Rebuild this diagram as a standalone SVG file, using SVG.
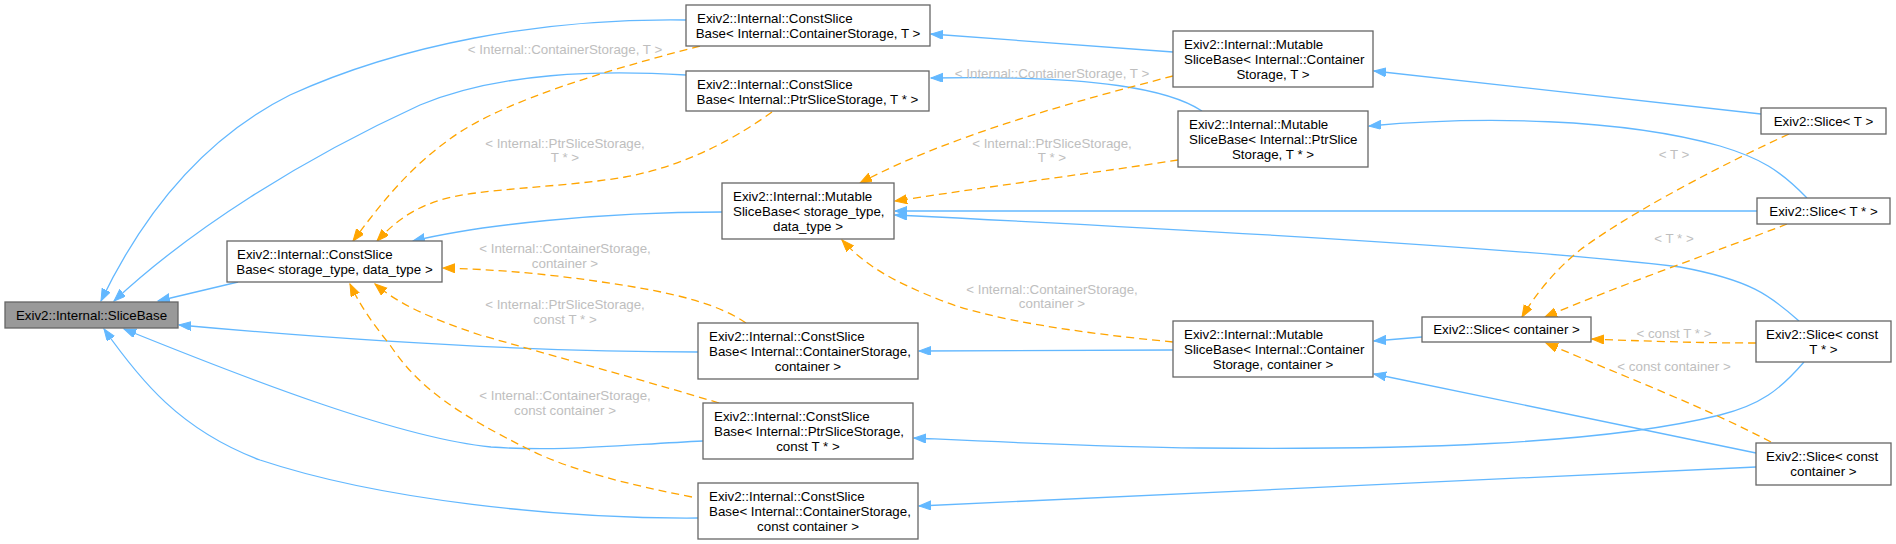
<svg xmlns="http://www.w3.org/2000/svg" width="1896" height="544" viewBox="0 0 1896 544">
<defs>
<style>
.n rect{fill:#ffffff;stroke:#666666;stroke-width:1.3}
.n text{font-family:"Liberation Sans",Arial,Helvetica,sans-serif;font-size:13.33px;fill:#000000}
.c{text-anchor:middle}
.e{fill:none;stroke:#63B8FF;stroke-width:1.3}
.t{fill:none;stroke:#FFA500;stroke-width:1.3;stroke-dasharray:8,5}
.lb{font-family:"Liberation Sans",Arial,Helvetica,sans-serif;font-size:13.33px;fill:#BEBEBE;text-anchor:middle}
</style>
<marker id="ab" markerWidth="14" markerHeight="10" refX="12" refY="4.5" orient="auto" markerUnits="userSpaceOnUse"><path d="M0,0 L12,4.5 L0,9 z" fill="#63B8FF" stroke="#63B8FF" stroke-width="1"/></marker>
<marker id="ao" markerWidth="14" markerHeight="10" refX="12" refY="4.5" orient="auto" markerUnits="userSpaceOnUse"><path d="M0,0 L12,4.5 L0,9 z" fill="#FFA500" stroke="#FFA500" stroke-width="1"/></marker>
</defs>
<rect width="1896" height="544" fill="#ffffff"/>
<g id="connectors">
<path class="e" marker-end="url(#ab)" d="M686,20 C540,18 400,45 290,95 C200,140 140,220 101,301"/>
<path class="e" marker-end="url(#ab)" d="M686,75 C600,70 500,72 420,105 C300,160 190,230 114,301"/>
<path class="e" marker-end="url(#ab)" d="M238,282 L158,301"/>
<path class="e" marker-end="url(#ab)" d="M698,352 C560,352 400,345 179,325"/>
<path class="e" marker-end="url(#ab)" d="M703,441 C620,445 560,452 491,447 C400,438 250,380 124,329"/>
<path class="e" marker-end="url(#ab)" d="M698,518 C560,519 380,500 260,460 C180,430 140,380 104,329"/>
<path class="e" marker-end="url(#ab)" d="M722,212 C600,212 480,225 413,241"/>
<path class="e" marker-end="url(#ab)" d="M1173,52 L931,34"/>
<path class="e" marker-end="url(#ab)" d="M1202,111 C1170,90 1100,75 931,78"/>
<path class="e" marker-end="url(#ab)" d="M1757,211 L895,211"/>
<path class="e" marker-end="url(#ab)" d="M1799,321 C1770,295 1750,280 1680,267 C1500,245 1100,225 895,215"/>
<path class="e" marker-end="url(#ab)" d="M1761,114 L1374,71"/>
<path class="e" marker-end="url(#ab)" d="M1807,198 C1780,170 1760,158 1720,146 C1620,118 1480,116 1369,126"/>
<path class="e" marker-end="url(#ab)" d="M1422,337 L1374,341"/>
<path class="e" marker-end="url(#ab)" d="M1756,453 L1374,374"/>
<path class="e" marker-end="url(#ab)" d="M1173,350 L919,351"/>
<path class="e" marker-end="url(#ab)" d="M1804,362 C1780,390 1760,405 1720,415 C1600,445 1400,450 1200,448 C1100,447 1000,442 914,438"/>
<path class="e" marker-end="url(#ab)" d="M1756,467 L919,506"/>
<path class="t" marker-end="url(#ao)" d="M700,46 C600,72 510,100 460,132 C410,165 380,205 353,241"/>
<path class="t" marker-end="url(#ao)" d="M772,112 C740,135 690,165 625,177 C560,188 480,188 440,200 C410,210 395,222 377,241"/>
<path class="t" marker-end="url(#ao)" d="M1173,76 C1080,100 950,135 860,183"/>
<path class="t" marker-end="url(#ao)" d="M1178,160 C1100,172 1000,185 895,201"/>
<path class="t" marker-end="url(#ao)" d="M746,323 C720,305 680,295 640,288 C580,278 520,270 443,268"/>
<path class="t" marker-end="url(#ao)" d="M719,403 C660,385 550,355 480,335 C430,318 400,305 375,284"/>
<path class="t" marker-end="url(#ao)" d="M692,497 C630,485 570,470 530,450 C460,415 420,390 390,345 C370,320 360,305 350,284"/>
<path class="t" marker-end="url(#ao)" d="M1173,342 C1080,333 990,320 940,300 C890,280 865,265 842,240"/>
<path class="t" marker-end="url(#ao)" d="M1789,134 C1700,175 1620,220 1580,250 C1555,270 1535,295 1522,317"/>
<path class="t" marker-end="url(#ao)" d="M1787,224 C1720,250 1620,285 1545,317"/>
<path class="t" marker-end="url(#ao)" d="M1756,343 C1700,343 1640,341 1592,339"/>
<path class="t" marker-end="url(#ao)" d="M1771,442 C1700,405 1620,375 1546,343"/>
<text class="lb" x="565" y="53.5">&lt; Internal::ContainerStorage, T &gt;</text>
<text class="lb" x="565" y="147.5">&lt; Internal::PtrSliceStorage,</text>
<text class="lb" x="565" y="162">T * &gt;</text>
<text class="lb" x="1052" y="77.5">&lt; Internal::ContainerStorage, T &gt;</text>
<text class="lb" x="1052" y="147.5">&lt; Internal::PtrSliceStorage,</text>
<text class="lb" x="1052" y="162">T * &gt;</text>
<text class="lb" x="565" y="252.5">&lt; Internal::ContainerStorage,</text>
<text class="lb" x="565" y="267.5">container &gt;</text>
<text class="lb" x="565" y="308.5">&lt; Internal::PtrSliceStorage,</text>
<text class="lb" x="565" y="323.5">const T * &gt;</text>
<text class="lb" x="565" y="399.5">&lt; Internal::ContainerStorage,</text>
<text class="lb" x="565" y="414.5">const container &gt;</text>
<text class="lb" x="1052" y="293.5">&lt; Internal::ContainerStorage,</text>
<text class="lb" x="1052" y="308">container &gt;</text>
<text class="lb" x="1674" y="158.5">&lt; T &gt;</text>
<text class="lb" x="1674" y="242.5">&lt; T * &gt;</text>
<text class="lb" x="1674" y="337.5">&lt; const T * &gt;</text>
<text class="lb" x="1674" y="370.5">&lt; const container &gt;</text>
</g>
<g id="SliceBase" class="n"><rect x="5" y="302" width="173" height="26" style="fill:#999999"/><text class="c" x="91.5" y="319.5">Exiv2::Internal::SliceBase</text></g>
<g id="ConstSliceBase_st" class="n"><rect x="227" y="241" width="215" height="41"/><text x="237" y="259">Exiv2::Internal::ConstSlice</text><text class="c" x="334.5" y="274">Base&lt; storage_type, data_type &gt;</text></g>
<g id="ConstSliceBase_CT" class="n"><rect x="686" y="5" width="244" height="41"/><text x="697" y="23">Exiv2::Internal::ConstSlice</text><text class="c" x="808" y="38">Base&lt; Internal::ContainerStorage, T &gt;</text></g>
<g id="ConstSliceBase_PT" class="n"><rect x="686" y="71" width="243" height="40"/><text x="697" y="89">Exiv2::Internal::ConstSlice</text><text class="c" x="807.5" y="104">Base&lt; Internal::PtrSliceStorage, T * &gt;</text></g>
<g id="MutableSliceBase_st" class="n"><rect x="722" y="183" width="172" height="56"/><text x="733" y="201">Exiv2::Internal::Mutable</text><text x="733" y="216">SliceBase&lt; storage_type,</text><text class="c" x="808" y="231">data_type &gt;</text></g>
<g id="MutableSliceBase_CT" class="n"><rect x="1173" y="31" width="200" height="56"/><text x="1184" y="49">Exiv2::Internal::Mutable</text><text x="1184" y="64">SliceBase&lt; Internal::Container</text><text class="c" x="1273" y="79">Storage, T &gt;</text></g>
<g id="MutableSliceBase_PT" class="n"><rect x="1178" y="111" width="190" height="56"/><text x="1189" y="129">Exiv2::Internal::Mutable</text><text x="1189" y="144">SliceBase&lt; Internal::PtrSlice</text><text class="c" x="1273" y="159">Storage, T * &gt;</text></g>
<g id="ConstSliceBase_Cc" class="n"><rect x="698" y="323" width="220" height="56"/><text x="709" y="341">Exiv2::Internal::ConstSlice</text><text x="709" y="356">Base&lt; Internal::ContainerStorage,</text><text class="c" x="808" y="371">container &gt;</text></g>
<g id="ConstSliceBase_PcT" class="n"><rect x="703" y="403" width="210" height="56"/><text x="714" y="421">Exiv2::Internal::ConstSlice</text><text x="714" y="436">Base&lt; Internal::PtrSliceStorage,</text><text class="c" x="808" y="451">const T * &gt;</text></g>
<g id="ConstSliceBase_Ccc" class="n"><rect x="698" y="483" width="220" height="56"/><text x="709" y="501">Exiv2::Internal::ConstSlice</text><text x="709" y="516">Base&lt; Internal::ContainerStorage,</text><text class="c" x="808" y="531">const container &gt;</text></g>
<g id="MutableSliceBase_Cc" class="n"><rect x="1173" y="321" width="200" height="56"/><text x="1184" y="339">Exiv2::Internal::Mutable</text><text x="1184" y="354">SliceBase&lt; Internal::Container</text><text class="c" x="1273" y="369">Storage, container &gt;</text></g>
<g id="Slice_container" class="n"><rect x="1422" y="317" width="169" height="25"/><text class="c" x="1506.5" y="334">Exiv2::Slice&lt; container &gt;</text></g>
<g id="Slice_T" class="n"><rect x="1761" y="108" width="125" height="26"/><text class="c" x="1823.5" y="125.5">Exiv2::Slice&lt; T &gt;</text></g>
<g id="Slice_Tp" class="n"><rect x="1757" y="198" width="133" height="26"/><text class="c" x="1823.5" y="215.5">Exiv2::Slice&lt; T * &gt;</text></g>
<g id="Slice_cTp" class="n"><rect x="1756" y="321" width="135" height="41"/><text x="1766" y="339">Exiv2::Slice&lt; const</text><text class="c" x="1823.5" y="354">T * &gt;</text></g>
<g id="Slice_cc" class="n"><rect x="1756" y="443" width="135" height="42"/><text x="1766" y="461">Exiv2::Slice&lt; const</text><text class="c" x="1823.5" y="476">container &gt;</text></g>
</svg>
